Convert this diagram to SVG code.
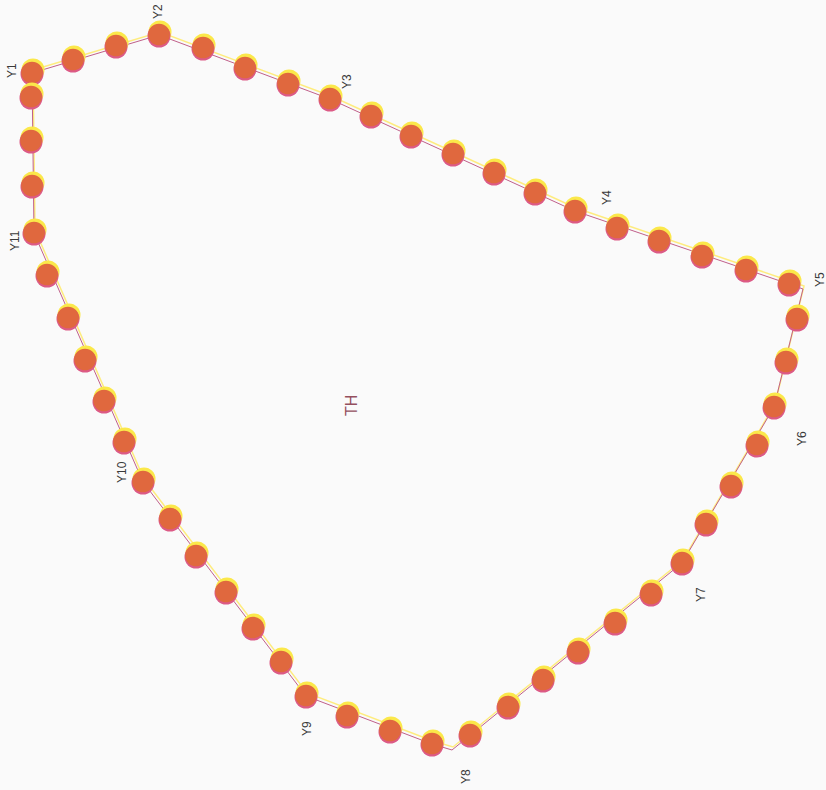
<svg xmlns="http://www.w3.org/2000/svg" xmlns:xlink="http://www.w3.org/1999/xlink" width="826" height="790" viewBox="0 0 826 790">
<style>
.lbl{font-family:"Liberation Sans",Arial,sans-serif;font-size:12px;fill:#3a3a3a}
.th{font-family:"Liberation Sans",Arial,sans-serif;font-size:16px;fill:#94505e}
.edge{fill:none;stroke:#c0608a;stroke-width:1}
.edgey{fill:none;stroke:#ffe860;stroke-width:1.5;opacity:0.8}
</style>
<defs>
<g id="dot">
<circle cx="1" cy="-3" r="11.5" fill="#fbe84a"/>
<circle cx="0" cy="1" r="11.5" fill="#dc5a86"/>
<circle cx="0" cy="-0.5" r="10.8" fill="#e0683e"/>
</g>
</defs>
<rect width="826" height="790" fill="#fafafa"/>
<g id="connectors">
<polygon class="edgey" transform="translate(1,-3)" points="32,73 159,35 330,99 575,211 789,284 803,289 774,407 682,563 452,750 432,744 306,696 143,482 34,233"/>
<polygon class="edge" points="32,73 159,35 330,99 575,211 789,284 803,289 774,407 682,563 452,750 432,744 306,696 143,482 34,233"/>
</g>
<g id="nodes">
<g id="Y1"><use xlink:href="#dot" x="32" y="73"/><text class="lbl" transform="translate(16,78) rotate(-90)">Y1</text></g>
<g id="n1a"><use xlink:href="#dot" x="73" y="60"/></g>
<g id="n1b"><use xlink:href="#dot" x="116" y="46"/></g>
<g id="Y2"><use xlink:href="#dot" x="159" y="35"/><text class="lbl" transform="translate(162,19) rotate(-90)">Y2</text></g>
<g id="n2a"><use xlink:href="#dot" x="203" y="48"/></g>
<g id="n2b"><use xlink:href="#dot" x="245" y="68"/></g>
<g id="n2c"><use xlink:href="#dot" x="288" y="84"/></g>
<g id="Y3"><use xlink:href="#dot" x="330" y="99"/><text class="lbl" transform="translate(351,89) rotate(-90)">Y3</text></g>
<g id="n3a"><use xlink:href="#dot" x="371" y="116"/></g>
<g id="n3b"><use xlink:href="#dot" x="411" y="136"/></g>
<g id="n3c"><use xlink:href="#dot" x="453" y="154"/></g>
<g id="n3d"><use xlink:href="#dot" x="494" y="173"/></g>
<g id="n3e"><use xlink:href="#dot" x="535" y="193"/></g>
<g id="Y4"><use xlink:href="#dot" x="575" y="211"/><text class="lbl" transform="translate(611,205) rotate(-90)">Y4</text></g>
<g id="n4a"><use xlink:href="#dot" x="617" y="228"/></g>
<g id="n4b"><use xlink:href="#dot" x="659" y="241"/></g>
<g id="n4c"><use xlink:href="#dot" x="702" y="256"/></g>
<g id="n4d"><use xlink:href="#dot" x="746" y="270"/></g>
<g id="Y5"><use xlink:href="#dot" x="789" y="284"/><text class="lbl" transform="translate(824,287) rotate(-90)">Y5</text></g>
<g id="n5a"><use xlink:href="#dot" x="797" y="319"/></g>
<g id="n5b"><use xlink:href="#dot" x="786" y="362"/></g>
<g id="Y6"><use xlink:href="#dot" x="774" y="407"/><text class="lbl" transform="translate(806,446) rotate(-90)">Y6</text></g>
<g id="n6a"><use xlink:href="#dot" x="757" y="445"/></g>
<g id="n6b"><use xlink:href="#dot" x="731" y="486"/></g>
<g id="n6c"><use xlink:href="#dot" x="706" y="524"/></g>
<g id="Y7"><use xlink:href="#dot" x="682" y="563"/><text class="lbl" transform="translate(705,602) rotate(-90)">Y7</text></g>
<g id="n7a"><use xlink:href="#dot" x="651" y="594"/></g>
<g id="n7b"><use xlink:href="#dot" x="615" y="623"/></g>
<g id="n7c"><use xlink:href="#dot" x="578" y="652"/></g>
<g id="n7d"><use xlink:href="#dot" x="543" y="680"/></g>
<g id="n7e"><use xlink:href="#dot" x="508" y="707"/></g>
<g id="n7f"><use xlink:href="#dot" x="470" y="735"/></g>
<g id="Y8"><use xlink:href="#dot" x="432" y="744"/><text class="lbl" transform="translate(470,784) rotate(-90)">Y8</text></g>
<g id="n8a"><use xlink:href="#dot" x="390" y="731"/></g>
<g id="n8b"><use xlink:href="#dot" x="347" y="716"/></g>
<g id="Y9"><use xlink:href="#dot" x="306" y="696"/><text class="lbl" transform="translate(311,736) rotate(-90)">Y9</text></g>
<g id="n9a"><use xlink:href="#dot" x="281" y="662"/></g>
<g id="n9b"><use xlink:href="#dot" x="253" y="628"/></g>
<g id="n9c"><use xlink:href="#dot" x="226" y="592"/></g>
<g id="n9d"><use xlink:href="#dot" x="196" y="556"/></g>
<g id="n9e"><use xlink:href="#dot" x="170" y="519"/></g>
<g id="Y10"><use xlink:href="#dot" x="143" y="482"/><text class="lbl" transform="translate(126,483) rotate(-90)">Y10</text></g>
<g id="n10a"><use xlink:href="#dot" x="124" y="442"/></g>
<g id="n10b"><use xlink:href="#dot" x="104" y="401"/></g>
<g id="n10c"><use xlink:href="#dot" x="85" y="360"/></g>
<g id="n10d"><use xlink:href="#dot" x="68" y="318"/></g>
<g id="n10e"><use xlink:href="#dot" x="47" y="275"/></g>
<g id="Y11"><use xlink:href="#dot" x="34" y="233"/><text class="lbl" transform="translate(19,251) rotate(-90)">Y11</text></g>
<g id="n11a"><use xlink:href="#dot" x="32" y="186"/></g>
<g id="n11b"><use xlink:href="#dot" x="31" y="141"/></g>
<g id="n11c"><use xlink:href="#dot" x="31" y="97"/></g>
</g>
<g id="TH"><text class="th" transform="translate(357,416) rotate(-90)">TH</text></g>
</svg>
